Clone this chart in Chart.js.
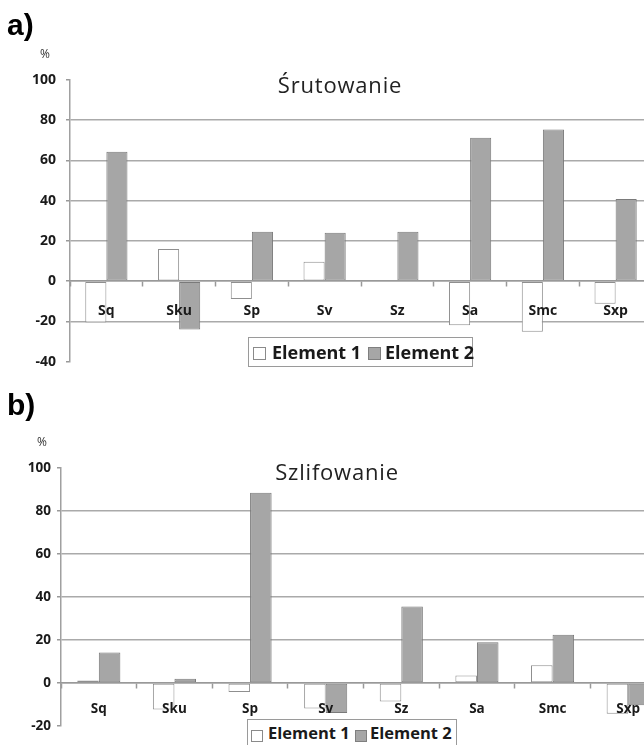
<!DOCTYPE html>
<html>
<head>
<meta charset="utf-8">
<script src="https://cdn.jsdelivr.net/npm/chart.js@4.4.1/dist/chart.umd.min.js"></script>
<style>
  html, body { margin: 0; padding: 0; background: #fff; width: 644px; height: 745px; overflow: hidden; }
  #wrap { position: relative; width: 644px; height: 745px; overflow: hidden; }
  canvas { position: absolute; left: 0; }
  .lbl { position: absolute; white-space: nowrap; line-height: 1; }
  .panel { font-family: 'Liberation Sans', Arial, sans-serif; font-weight: bold; font-size: 30px; color: #000; }
  .pct { font-family: 'Open Sans', sans-serif; font-size: 12px; color: #333; }
  .ttl { font-family: 'Open Sans', sans-serif; font-size: 22px; letter-spacing: 0.8px; color: #222; text-align: center; width: 200px; }
  .leg { position: absolute; box-sizing: border-box; border: 1px solid #9a9a9a; background: #fff; }
  .leg .sq { position: absolute; box-sizing: border-box; border: 1px solid #8a8a8a; }
  .leg .tx { position: absolute; line-height: 1; white-space: nowrap; font-family: 'Open Sans', sans-serif; font-weight: bold; color: #1a1a1a; }
</style>
</head>
<body>
<div id="wrap">
  <canvas id="shotChart" width="680" height="380" style="top:0"></canvas>
  <canvas id="grindChart" width="690" height="365" style="top:380px"></canvas>

  <div class="lbl panel" style="left:7px;top:10px">a)</div>
  <div class="lbl pct" style="left:40px;top:48px">%</div>
  <div class="lbl ttl" style="left:240px;top:73px">Śrutowanie</div>
  <div class="leg" style="left:248px;top:337px;width:225px;height:30px">
    <div class="sq" style="left:4px;top:9px;width:13px;height:13px;background:#fff"></div>
    <div class="tx" style="left:23px;top:5px;font-size:18px">Element 1</div>
    <div class="sq" style="left:119px;top:9px;width:13px;height:13px;background:#a6a6a6;border-color:#7f7f7f"></div>
    <div class="tx" style="left:136px;top:5px;font-size:18px">Element 2</div>
  </div>

  <div class="lbl panel" style="left:7px;top:390px">b)</div>
  <div class="lbl pct" style="left:37px;top:436px">%</div>
  <div class="lbl ttl" style="left:237px;top:460px">Szlifowanie</div>
  <div class="leg" style="left:247px;top:719px;width:210px;height:34px">
    <div class="sq" style="left:3px;top:10px;width:12px;height:12px;background:#fff"></div>
    <div class="tx" style="left:20px;top:5px;font-size:16.5px">Element 1</div>
    <div class="sq" style="left:107px;top:10px;width:12px;height:12px;background:#a6a6a6;border-color:#7f7f7f"></div>
    <div class="tx" style="left:122px;top:5px;font-size:16.5px">Element 2</div>
  </div>
</div>

<script>
const categories = ['Sq', 'Sku', 'Sp', 'Sv', 'Sz', 'Sa', 'Smc', 'Sxp'];
const seriesNames = ['Element 1', 'Element 2'];

// a) Śrutowanie
const shotElement1 = [-20.6, 16, -8.9, 9.7, 0.6, -21.9, -25.1, -11.3];
const shotElement2 = [64.3, -24, 24.5, 24.1, 24.5, 71.3, 75.4, 40.9];
const shotTicks = [-40, -20, 0, 20, 40, 60, 80, 100];

// b) Szlifowanie
const grindElement1 = [1.2, -12.3, -4.2, -11.9, -8.6, 3.5, 8.3, -14.3];
const grindElement2 = [14.2, 2, 88.5, -13.9, 35.6, 18.9, 22.5, -10.3];
const grindTicks = [-20, 0, 20, 40, 60, 80, 100];

Chart.defaults.font.family = "'Open Sans', sans-serif";
Chart.defaults.color = '#1a1a1a';

function makeChart(id, e1, e2, ticks, opt) {
    const lo = ticks[0], hi = ticks[ticks.length - 1];
    return new Chart(document.getElementById(id), {
        type: 'bar',
        data: {
            labels: categories,
            datasets: [{
                label: seriesNames[0],
                data: e1,
                backgroundColor: '#ffffff',
                borderColor: '#8f8f8f',
                borderWidth: 1,
                borderSkipped: false
            }, {
                label: seriesNames[1],
                data: e2,
                backgroundColor: '#a6a6a6',
                borderColor: '#7a7a7a',
                borderWidth: 1,
                borderSkipped: false
            }]
        },
        options: {
            responsive: false,
            animation: false,
            devicePixelRatio: 1,
            layout: { padding: opt.padding },
            plugins: { legend: { display: false }, tooltip: { enabled: false } },
            datasets: { bar: { barPercentage: 1, categoryPercentage: opt.catPct } },
            scales: {
                x: {
                    position: { y: 0 },
                    grid: { offset: true, drawOnChartArea: false, tickLength: 5, tickColor: '#999', tickWidth: 1.5 },
                    border: { color: '#999', width: 1.5, z: 1 },
                    ticks: { z: 1, padding: opt.xPad, maxRotation: 0, font: { size: opt.fs, weight: 'bold' } }
                },
                y: {
                    min: lo, max: hi,
                    afterBuildTicks: s => { s.ticks = ticks.map(v => ({ value: v })); },
                    afterFit: s => { s.width = opt.axisX; },
                    grid: {
                        color: c => (c.tick && (c.tick.value === lo || c.tick.value === hi)) ? 'rgba(0,0,0,0)' : '#aaaaaa',
                        lineWidth: 1.5,
                        tickLength: 4,
                        tickColor: '#999'
                    },
                    border: { color: '#a0a0a0', width: 1.5 },
                    ticks: { padding: opt.yPad, font: { size: opt.fs, weight: 'bold' } }
                }
            }
        }
    });
}

makeChart('shotChart', shotElement1, shotElement2, shotTicks,
    { padding: { top: 80, bottom: 10, left: 0, right: 28 }, catPct: 0.58, axisX: 70, xPad: 16, yPad: 10, fs: 14 });
makeChart('grindChart', grindElement1, grindElement2, grindTicks,
    { padding: { top: 88, bottom: 19, left: 0, right: 24 }, catPct: 0.57, axisX: 61, xPad: 13, yPad: 6, fs: 13.5 });
</script>
</body>
</html>
